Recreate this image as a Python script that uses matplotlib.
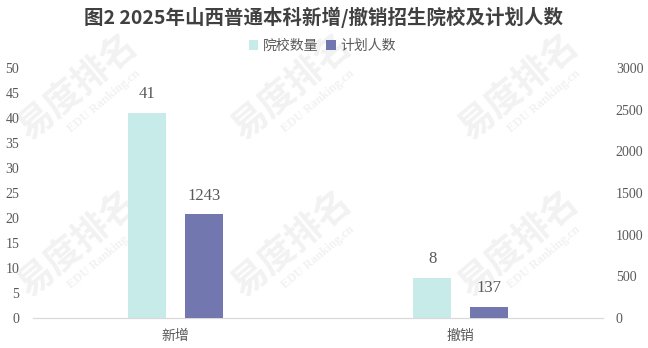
import matplotlib.pyplot as plt
import numpy as np

plt.rcParams['font.family'] = ['Liberation Serif', 'Noto Sans CJK SC']

# data
categories = ["新增", "撤销"]
schools = [41, 8]
plan = [1243, 137]
series_names = ["院校数量", "计划人数"]

CYAN = "#C6EBE9"
PURPLE = "#7377AF"
TXT = "#595959"

fig = plt.figure(figsize=(6.48, 3.48), dpi=100)
ax = fig.add_axes([0.051, 0.086, 0.880, 0.719])
ax2 = ax.twinx()

x = np.arange(len(categories))
w = 0.133
off = 0.1
b1 = ax.bar(x - off, schools, w, color=CYAN, label=series_names[0], zorder=3)
b2 = ax2.bar(x + off, plan, w, color=PURPLE, label=series_names[1], zorder=3)

ax.set_xlim(-0.5, 1.5)
ax.set_ylim(0, 50)
ax.set_yticks(range(0, 51, 5))
ax2.set_ylim(0, 3000)
ax2.set_yticks(range(0, 3001, 500))

for a in (ax, ax2):
    for s in ("top", "left", "right"):
        a.spines[s].set_visible(False)
    a.spines["bottom"].set_color("#D9D9D9")
    a.tick_params(length=0, labelsize=10, colors=TXT)
ax.set_xticks(x)
ax.set_xticklabels(categories, fontfamily=['Noto Sans CJK SC'], fontsize=10)
ax.tick_params(axis='x', pad=8)
ax.tick_params(axis='y', pad=10)
ax2.tick_params(axis='y', pad=9)

for rect, v in zip(b1, schools):
    ax.text(rect.get_x() + rect.get_width() / 2, v + 2.2, str(v),
            ha="center", va="bottom", fontsize=12, color=TXT)
for rect, v in zip(b2, plan):
    ax2.text(rect.get_x() + rect.get_width() / 2, v + 130, str(v),
             ha="center", va="bottom", fontsize=12, color=TXT)

# watermark
for wx, wy in [(0.12, 0.75), (0.45, 0.75), (0.8, 0.75),
               (0.12, 0.3), (0.45, 0.3), (0.8, 0.3)]:
    fig.text(wx, wy, "易度排名", fontsize=26, color="#F2F2F2", rotation=40,
             ha="center", va="center", fontweight="bold",
             fontfamily=['Noto Sans CJK SC'], zorder=0)
    fig.text(wx + 0.04, wy - 0.04, "EDU Ranking.cn", fontsize=9, color="#F2F2F2",
             rotation=40, ha="center", va="center", fontweight="bold", zorder=0)
ax.set_zorder(2)
ax2.set_zorder(3)
ax.patch.set_visible(False)
ax2.patch.set_visible(False)

fig.text(0.5, 0.95, "图2 2025年山西普通本科新增/撤销招生院校及计划人数",
         ha="center", va="center", fontsize=14, fontweight="bold", color="#404040",
         fontfamily=['Noto Sans CJK SC'])

h = [b1, b2]
fig.legend(h, series_names, loc="center", bbox_to_anchor=(0.497, 0.868), ncol=2,
           frameon=False, prop={'family': 'Noto Sans CJK SC', 'size': 10},
           handlelength=0.7, handleheight=0.7, handletextpad=0.3, columnspacing=0.6,
           labelcolor=TXT)

fig.savefig("out.png", dpi=100)
